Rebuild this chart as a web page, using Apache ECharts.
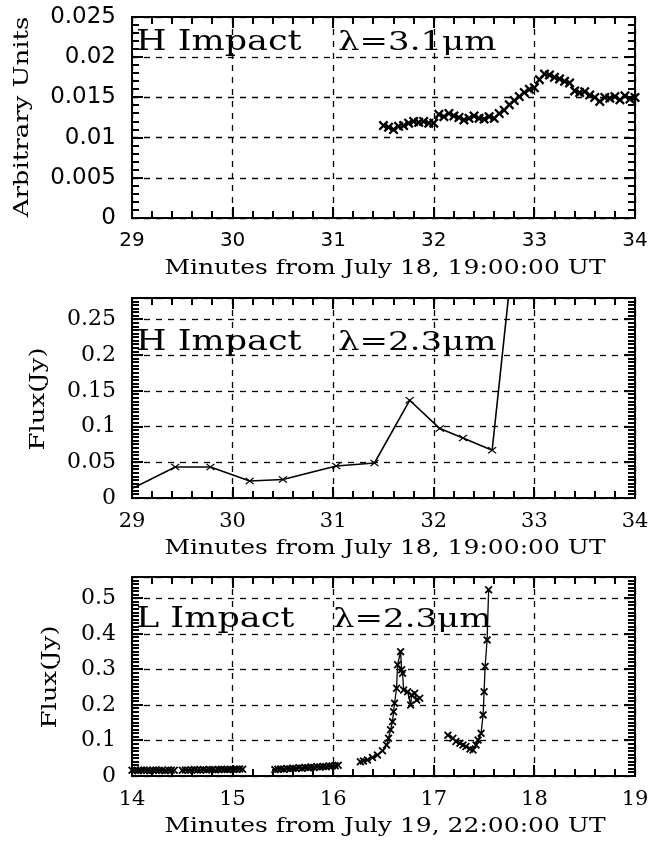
<!DOCTYPE html>
<html><head><meta charset="utf-8">
<script src="https://cdn.jsdelivr.net/npm/echarts@6/dist/echarts.min.js"></script>
<style>html,body{margin:0;padding:0;background:#fff}#c{width:652px;height:842px}</style>
</head><body><div id="c"></div>
<script>
// ---------- Panel 1: H impact, 3.1 micron (arbitrary units) ----------
const h31X = [31.50,31.55,31.60,31.65,31.70,31.75,31.80,31.85,31.90,31.95,32.00,32.05,32.10,32.15,32.20,32.25,32.30,32.35,32.40,32.45,32.50,32.55,32.60,32.65,32.70,32.75,32.80,32.85,32.90,32.95,33.00,33.05,33.10,33.15,33.20,33.25,33.30,33.35,33.40,33.45,33.50,33.55,33.60,33.65,33.70,33.75,33.80,33.85,33.90,33.95,34.00];
const h31Y = [0.0115,0.0113,0.0110,0.0114,0.0115,0.0118,0.0120,0.0119,0.0120,0.0118,0.0118,0.0129,0.0126,0.0130,0.0127,0.0125,0.0122,0.0124,0.0127,0.0124,0.0123,0.0126,0.0124,0.0130,0.0134,0.0141,0.0146,0.0151,0.0156,0.0160,0.0162,0.0172,0.0179,0.0178,0.0175,0.0173,0.0170,0.0168,0.0158,0.0156,0.0157,0.0153,0.0150,0.0145,0.0150,0.0149,0.0151,0.0147,0.0152,0.0148,0.0150];

// ---------- Panel 2: H impact, 2.3 micron (Jy) ----------
const h23X = [28.95,29.43,29.78,30.17,30.50,31.03,31.41,31.76,32.06,32.29,32.58,32.93];
const h23Y = [0.0095,0.0434,0.0434,0.0238,0.0258,0.0448,0.0490,0.1368,0.0972,0.0840,0.0668,0.5300];

// ---------- Panel 3: L impact, 2.3 micron (Jy), five runs ----------
const lAX = [14.00,14.03,14.06,14.09,14.12,14.15,14.18,14.21,14.24,14.27,14.30,14.33,14.36,14.39,14.42];
const lAY = [0.016,0.017,0.015,0.016,0.017,0.016,0.015,0.016,0.017,0.016,0.016,0.015,0.017,0.016,0.016];
const lBX = [14.50,14.53,14.56,14.59,14.62,14.65,14.68,14.71,14.74,14.77,14.80,14.83,14.86,14.89,14.92,14.95,14.98,15.01,15.04,15.07,15.10];
const lBY = [0.016,0.017,0.016,0.017,0.018,0.017,0.017,0.018,0.017,0.018,0.018,0.017,0.018,0.019,0.018,0.018,0.019,0.018,0.019,0.020,0.019];
const lCX = [15.42,15.45,15.48,15.51,15.54,15.57,15.60,15.63,15.66,15.69,15.72,15.75,15.78,15.81,15.84,15.87,15.90,15.93,15.96,15.99,16.02,16.05];
const lCY = [0.018,0.019,0.020,0.019,0.021,0.020,0.022,0.021,0.023,0.022,0.024,0.023,0.025,0.024,0.026,0.025,0.027,0.026,0.028,0.028,0.029,0.030];
const lDX = [16.27,16.30,16.34,16.39,16.44,16.49,16.53,16.55,16.57,16.59,16.60,16.61,16.63,16.64,16.67,16.68,16.69,16.70,16.74,16.77,16.78,16.81,16.83,16.86];
const lDY = [0.040,0.042,0.045,0.052,0.059,0.071,0.087,0.106,0.130,0.153,0.181,0.205,0.247,0.313,0.350,0.299,0.289,0.242,0.237,0.200,0.228,0.233,0.214,0.219];
const lEX = [17.14,17.19,17.22,17.26,17.29,17.32,17.36,17.39,17.42,17.44,17.47,17.49,17.50,17.51,17.53,17.545];
const lEY = [0.115,0.106,0.097,0.092,0.087,0.083,0.076,0.073,0.087,0.101,0.120,0.172,0.237,0.308,0.383,0.524];

// ---------- Texts ----------
const xTitles = ["Minutes from July 18, 19:00:00 UT","Minutes from July 18, 19:00:00 UT","Minutes from July 19, 22:00:00 UT"];
const yTitles = ["Arbitrary Units","Flux(Jy)","Flux(Jy)"];
const impactLabels = ["H Impact","H Impact","L Impact"];
const lambdaLabels = ["λ=3.1μm","λ=2.3μm","λ=2.3μm"];

const pairs = (xs, ys) => xs.map((x, i) => [x, ys[i]]);

const SERIF = '"DejaVu Serif", "Liberation Serif", serif';
const SANS = '"DejaVu Sans", "Liberation Sans", sans-serif';
const X_BOLD = 'path://M0,1.6L1.6,0L5,3.4L8.4,0L10,1.6L6.6,5L10,8.4L8.4,10L5,6.6L1.6,10L0,8.4L3.4,5Z';
const X_THIN = 'path://M0,1.1L1.1,0L5,3.9L8.9,0L10,1.1L6.1,5L10,8.9L8.9,10L5,6.1L1.1,10L0,8.9L3.9,5Z';

const panels = [
  { top:17, height:201, xMin:29, xMax:34, xInt:1, xMinor:0.2, yMax:0.025, yInt:0.005, yMinor:0.001,
    labFont:SANS, xLab:20, yLab:23, showMaxY:true,
    runs:[pairs(h31X,h31Y)], sym:X_BOLD, symSize:10, lw:1.3,
    yTitle:{x:23, y:117}, ann:{y:43, lx:338} },
  { top:298, height:200, xMin:29, xMax:34, xInt:1, xMinor:0.2, yMax:0.28, yInt:0.05, yMinor:0.005,
    labFont:SERIF, xLab:21, yLab:22, showMaxY:false,
    runs:[pairs(h23X,h23Y)], sym:X_THIN, symSize:[9,7], lw:1.6,
    yTitle:{x:39, y:399}, ann:{y:343, lx:338} },
  { top:577, height:199, xMin:14, xMax:19, xInt:1, xMinor:0.2, yMax:0.56, yInt:0.1, yMinor:0.01,
    labFont:SERIF, xLab:21, yLab:22, showMaxY:false,
    runs:[pairs(lAX,lAY),pairs(lBX,lBY),pairs(lCX,lCY),pairs(lDX,lDY),pairs(lEX,lEY)], sym:X_BOLD, symSize:8, lw:1.3,
    yTitle:{x:51, y:677}, ann:{y:620, lx:333} }
];

const LEFT = 132, WIDTH = 503;
const MAJOR_LEN = 11, MINOR_LEN = 7;
const grid = [], xAxis = [], yAxis = [], series = [];
const black = '#000';

// tick stops strictly between lo and hi
function stops(lo, hi, step) {
  const out = [];
  const n = Math.floor((hi - lo) / step + 1e-6);
  for (let k = 1; k <= n; k++) {
    const v = +(lo + k * step).toFixed(6);
    if (v < hi - 1e-9) out.push(v);
  }
  return out;
}

panels.forEach((p, i) => {
  grid.push({ left: LEFT, top: p.top, width: WIDTH, height: p.height, containLabel: false, outerBoundsMode: 'none' });
  const dashed = { show: true, lineStyle: { color: black, width: 1.3, type: [6, 6] } };
  xAxis.push({ gridIndex: i, type: 'value', min: p.xMin, max: p.xMax, interval: p.xInt, position: 'bottom',
    axisLine: { show: false, onZero: false }, axisTick: { show: false },
    axisLabel: { color: black, fontFamily: p.labFont, fontSize: p.xLab, margin: 13 },
    splitLine: dashed });
  yAxis.push({ gridIndex: i, type: 'value', min: 0, max: p.yMax, interval: p.yInt, position: 'left',
    axisLine: { show: false, onZero: false }, axisTick: { show: false },
    axisLabel: { color: black, fontFamily: p.labFont, fontSize: p.yLab, margin: 16, showMaxLabel: p.showMaxY },
    splitLine: dashed });
  p.runs.forEach(run => series.push({
    type: 'line', xAxisIndex: i, yAxisIndex: i, data: run, clip: true,
    symbol: p.sym, symbolSize: p.symSize, showAllSymbol: true, symbolKeepAspect: false,
    lineStyle: { color: black, width: p.lw }, itemStyle: { color: black }, z: 5
  }));
});

const chart = echarts.init(document.getElementById('c'), null, { renderer: 'canvas' });
chart.setOption({ backgroundColor: '#fff', animation: false, grid, xAxis, yAxis, series });

// Frame, inside ticks on all four sides, and texts — positioned via the grids' own scales
const graphic = [];
const snap = v => Math.round(v);
const seg = (a, b, w) => graphic.push({ type: 'line', silent: true, z: 50,
  shape: { x1: snap(a[0]), y1: snap(a[1]), x2: snap(b[0]), y2: snap(b[1]) },
  style: { stroke: black, lineWidth: w, lineCap: 'butt' } });
panels.forEach((p, i) => {
  const px = (x, y) => chart.convertToPixel({ gridIndex: i }, [x, y]);
  const bl = px(p.xMin, 0), tr = px(p.xMax, p.yMax);
  const L = snap(bl[0]), R = snap(tr[0]), T = snap(tr[1]), B = snap(bl[1]);
  seg([L, T], [R, T], 2); seg([L, B], [R, B], 2); seg([L, T - 1], [L, B + 1], 2); seg([R, T - 1], [R, B + 1], 2);
  const xt = (v, len) => { const x = px(v, 0)[0];
    seg([x, B], [x, B - len], 2); seg([x, T], [x, T + len], 2); };
  const yt = (v, len) => { const y = px(p.xMin, v)[1];
    seg([L, y], [L + len, y], 2); seg([R, y], [R - len, y], 2); };
  stops(p.xMin, p.xMax, p.xMinor).forEach(v => xt(v, MINOR_LEN));
  stops(p.xMin, p.xMax, p.xInt).forEach(v => xt(v, MAJOR_LEN));
  stops(0, p.yMax, p.yMinor).forEach(v => yt(v, MINOR_LEN));
  stops(0, p.yMax, p.yInt).forEach(v => yt(v, MAJOR_LEN));

  graphic.push({ type: 'text', x: 385, y: B + 50, scaleY: 0.85, silent: true, z: 60,
    style: { text: xTitles[i], fill: black, font: '25px ' + SERIF, align: 'center', verticalAlign: 'middle' } });
  graphic.push({ type: 'text', x: p.yTitle.x, y: p.yTitle.y, rotation: Math.PI / 2, scaleY: 0.8, silent: true, z: 60,
    style: { text: yTitles[i], fill: black, font: '26px ' + SERIF, align: 'center', verticalAlign: 'middle' } });
  graphic.push({ type: 'text', x: L + 4, y: p.ann.y, scaleY: 0.78, silent: true, z: 60,
    style: { text: impactLabels[i], fill: black, font: '35px ' + SERIF, align: 'left', verticalAlign: 'middle' } });
  graphic.push({ type: 'text', x: p.ann.lx, y: p.ann.y, scaleY: 0.78, silent: true, z: 60,
    style: { text: lambdaLabels[i], fill: black, font: '34px ' + SERIF, align: 'left', verticalAlign: 'middle' } });
});
chart.setOption({ graphic: graphic });
</script></body></html>
